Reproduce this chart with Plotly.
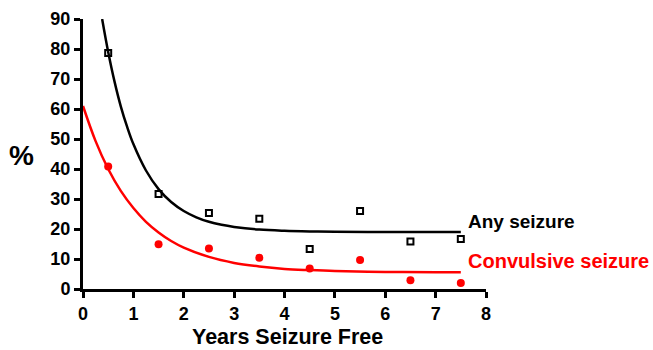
import plotly.graph_objects as go

# Observed data points
years = [0.5, 1.5, 2.5, 3.5, 4.5, 5.5, 6.5, 7.5]
any_seizure = [78.7, 31.7, 25.3, 23.4, 13.3, 26.0, 15.8, 16.7]
convulsive = [40.8, 14.9, 13.5, 10.4, 6.8, 9.7, 2.9, 2.0]

# Fitted decay curves
any_fit_x = [0.38, 0.5, 0.625, 0.75, 0.875, 1.0, 1.25, 1.5, 1.75, 2.0, 2.25, 2.5, 2.75, 3.0, 3.5, 4.0, 4.5, 5.0, 6.0, 7.0, 7.5]
any_fit_y = [90.0, 79.0, 69.2, 60.9, 54.1, 48.3, 39.5, 33.3, 29.0, 26.0, 23.9, 22.4, 21.4, 20.7, 19.8, 19.4, 19.2, 19.1, 19.0, 19.0, 19.0]
conv_fit_x = [0.0, 0.25, 0.5, 0.75, 1.0, 1.25, 1.5, 1.75, 2.0, 2.5, 3.0, 3.5, 4.0, 4.5, 5.0, 6.0, 7.0, 7.5]
conv_fit_y = [61.0, 49.3, 40.0, 32.7, 27.0, 22.4, 18.85, 16.0, 13.8, 10.7, 8.7, 7.5, 6.7, 6.3, 6.0, 5.7, 5.6, 5.55]

x_ticks = [0, 1, 2, 3, 4, 5, 6, 7, 8]
y_ticks = [0, 10, 20, 30, 40, 50, 60, 70, 80, 90]

FONT = "Liberation Sans, Arial, sans-serif"
RED = "#ff0000"

# pixel geometry of the plot area
L, R, T, B = 83, 486, 19, 289
W, H = 653, 350

fig = go.Figure()
fig.add_trace(go.Scatter(x=any_fit_x, y=any_fit_y, mode="lines", line=dict(color="black", width=2.5, shape="spline"), showlegend=False, hoverinfo="skip"))
fig.add_trace(go.Scatter(x=conv_fit_x, y=conv_fit_y, mode="lines", line=dict(color=RED, width=2.5, shape="spline"), showlegend=False, hoverinfo="skip"))
fig.add_trace(go.Scatter(x=years, y=any_seizure, mode="markers", marker=dict(symbol="square-open", size=6, color="black", line=dict(width=2, color="black")), showlegend=False, cliponaxis=False))
fig.add_trace(go.Scatter(x=years, y=convulsive, mode="markers", marker=dict(symbol="circle", size=8, color=RED), showlegend=False, cliponaxis=False))

def px_x(p):
    return (p - L) / (R - L)

def px_y(p):
    return (B - p) / (B - T)

fig.add_annotation(x=px_x(466), y=px_y(221), xref="paper", yref="paper", text="<b>Any seizure</b>", showarrow=False, xanchor="left", yanchor="middle", font=dict(family=FONT, size=19, color="black"))
fig.add_annotation(x=px_x(466), y=px_y(261), xref="paper", yref="paper", text="<b>Convulsive seizure</b>", showarrow=False, xanchor="left", yanchor="middle", font=dict(family=FONT, size=20, color=RED))
fig.add_annotation(x=px_x(22), y=px_y(155), xref="paper", yref="paper", text="<b>%</b>", showarrow=False, xanchor="center", yanchor="middle", font=dict(family=FONT, size=28, color="black"))
fig.add_annotation(x=px_x(287), y=px_y(336.5), xref="paper", yref="paper", text="<b>Years Seizure Free</b>", showarrow=False, xanchor="center", yanchor="middle", font=dict(family=FONT, size=21.5, color="black"))

fig.update_layout(
    width=W, height=H,
    margin=dict(l=L, r=W - R, t=T, b=H - B, autoexpand=False),
    plot_bgcolor="white", paper_bgcolor="white",
    font=dict(family=FONT, size=18, color="black"),
    xaxis=dict(range=[0, 8], tickvals=x_ticks, ticktext=[f"<b>{v}</b>" for v in x_ticks],
               showgrid=False, zeroline=False, automargin=False,
               showline=True, linecolor="black", linewidth=3,
               ticks="outside", ticklen=6, tickwidth=3, tickcolor="black",
               tickfont=dict(family=FONT, size=18, color="black")),
    yaxis=dict(range=[0, 90], tickvals=y_ticks, ticktext=[f"<b>{v}</b>" for v in y_ticks],
               showgrid=False, zeroline=False, automargin=False,
               showline=True, linecolor="black", linewidth=3,
               ticks="outside", ticklen=6, tickwidth=3, tickcolor="black",
               tickfont=dict(family=FONT, size=18, color="black")),
)

fig.write_html("out.html")
